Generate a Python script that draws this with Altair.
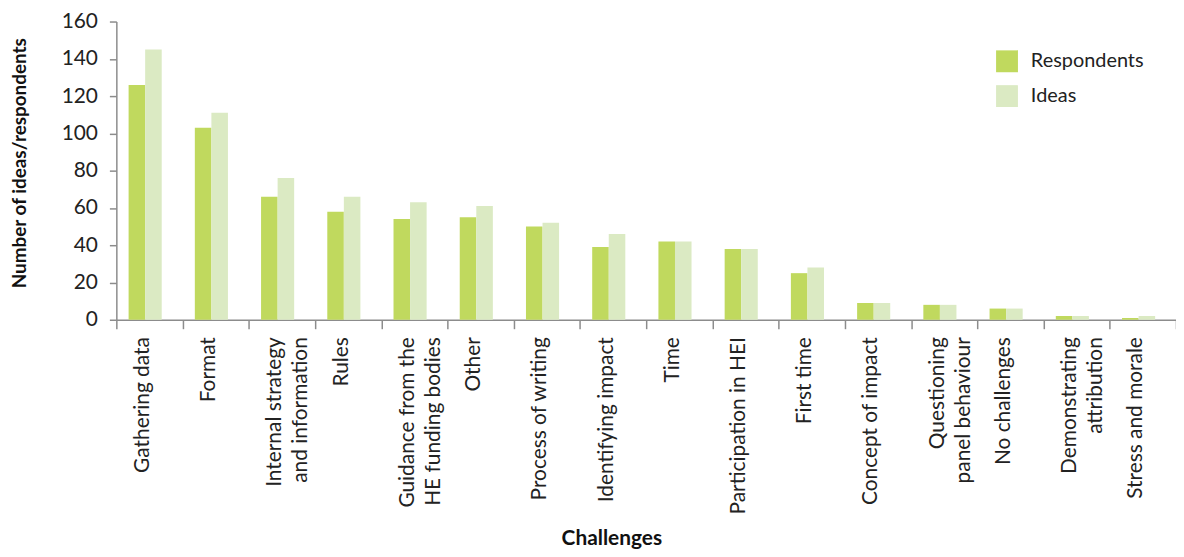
import altair as alt
import pandas as pd

categories = [
    "Gathering data", "Format", "Internal strategy|and information", "Rules",
    "Guidance from the|HE funding bodies", "Other", "Process of writing",
    "Identifying impact", "Time", "Participation in HEI", "First time",
    "Concept of impact", "Questioning|panel behaviour", "No challenges",
    "Demonstrating|attribution", "Stress and morale",
]
respondents = [126, 103, 66, 58, 54, 55, 50, 39, 42, 38, 25, 9, 8, 6, 2, 1]
ideas = [145, 111, 76, 66, 63, 61, 52, 46, 42, 38, 28, 9, 8, 6, 2, 2]
series = ["Respondents", "Ideas"]
colors = ["#C0D95E", "#DBEAC3"]

rows = []
for c, r, i in zip(categories, respondents, ideas):
    rows.append({"cat": c, "series": "Respondents", "value": r})
    rows.append({"cat": c, "series": "Ideas", "value": i})
df = pd.DataFrame(rows)

FONT = "Lato"
AX = "#8C8C8C"

chart = alt.Chart(df).mark_bar().encode(
    x=alt.X(
        "cat:N", sort=categories,
        scale=alt.Scale(paddingInner=0, paddingOuter=0),
        axis=alt.Axis(
            title="Challenges", labelAngle=270, labelExpr="split(datum.label, '|')",
            tickBand="extent", tickSize=9, labelPadding=8, labelOffset=-7,
            labelLineHeight=26, labelFontSize=21, labelColor="#222222",
            titleFontSize=21, titleFontWeight="bold", titleColor="#111111",
            titleX=498, titleY=220, titleBaseline="middle", titleAnchor="middle",
            domainColor=AX, tickColor=AX, domainWidth=1.5, tickWidth=1.5,
        ),
    ),
    xOffset=alt.XOffset(
        "series:N", sort=series,
        scale=alt.Scale(paddingInner=0, paddingOuter=1, align=0.37),
    ),
    y=alt.Y(
        "value:Q",
        scale=alt.Scale(domain=[0, 160], nice=False),
        axis=alt.Axis(
            title="Number of ideas/respondents", values=list(range(0, 161, 20)),
            grid=False, tickSize=7, labelPadding=12, labelFontSize=21,
            labelColor="#222222", titleFontSize=19, titleFontWeight="bold",
            titleColor="#111111", titleX=-97, titleY=142, titleBaseline="middle",
            titleAngle=270, titleAnchor="middle",
            domainColor=AX, tickColor=AX, domainWidth=1.5, tickWidth=1.5,
        ),
    ),
    color=alt.Color(
        "series:N", sort=series,
        scale=alt.Scale(domain=series, range=colors),
        legend=alt.Legend(
            title=None, orient="none", legendX=885, legendY=29,
            symbolType="square", symbolSize=484, symbolStrokeWidth=0,
            symbolOpacity=1, labelFontSize=20, labelColor="#222222",
            labelOffset=13, rowPadding=13, padding=0,
        ),
    ),
).properties(
    width=1066, height=300,
    padding={"left": 109, "top": 12, "right": 0, "bottom": 229},
    autosize="none",
).configure(font=FONT).configure_view(stroke=None)

chart.save("out.html", embed_options={"renderer": "svg", "actions": False})
